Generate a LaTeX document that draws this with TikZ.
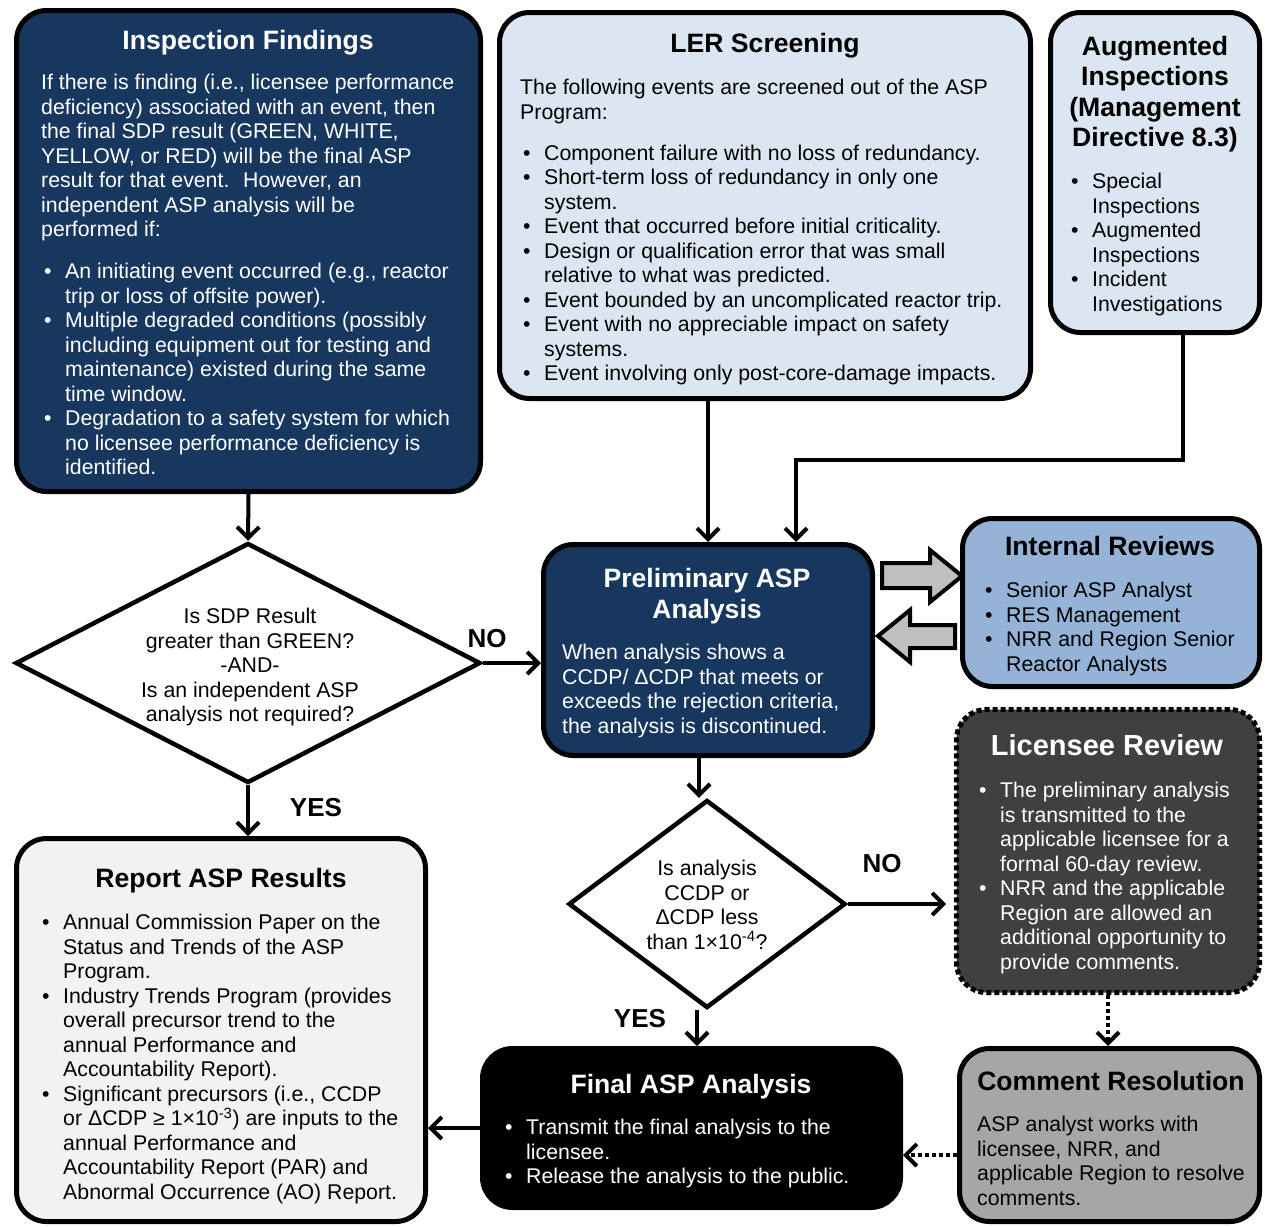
\documentclass[tikz,border=0pt]{standalone}
\usepackage{fontspec}
\setmainfont{Liberation Sans}
\usetikzlibrary{shapes.geometric,arrows.meta,calc}
\definecolor{navy}{HTML}{17375E}
\definecolor{lightblue}{HTML}{DCE6F2}
\definecolor{midblue}{HTML}{95B3D7}
\definecolor{darkgray}{HTML}{404040}
\definecolor{midgray}{HTML}{A6A6A6}
\definecolor{palegray}{HTML}{F2F2F2}
\definecolor{arrowgray}{HTML}{BFBFBF}
\newcommand{\bitem}{\makebox[24pt][l]{\hspace{3pt}•}}
\newcommand{\bind}{\hspace*{24pt}}
\tikzset{
  box/.style={draw=black, line width=5pt, rounded corners=30pt, rectangle},
  body/.style={font=\fontsize{21.3}{24.5}\selectfont, align=left, anchor=north west, inner sep=0pt},
  dtext/.style={font=\fontsize{21.3}{24.5}\selectfont, align=center, anchor=north, inner sep=0pt},
  ttl/.style={font=\bfseries\fontsize{26.6}{30.5}\selectfont, anchor=base, inner sep=0pt},
  mttl/.style={font=\bfseries\fontsize{26.6}{30.5}\selectfont, align=center, anchor=north, inner sep=0pt},
  lbl/.style={font=\bfseries\fontsize{26}{30}\selectfont, anchor=base, inner sep=0pt},
  dia/.style={diamond, draw=black, line width=4.5pt, fill=white, inner sep=0pt},
  conn/.style={line width=4pt, -{Straight Barb[length=11pt,width=22pt]}},
  dconn/.style={line width=4pt, dash pattern=on 4pt off 3pt, -{Straight Barb[length=11pt,width=22pt]}},
  blockarrow/.style={draw=black, line width=4pt, fill=arrowgray, line join=miter}
}
\begin{document}
\begin{tikzpicture}[x=1pt,y=-1pt]
\useasboundingbox (0,0) rectangle (1265,1226);
\fill[white] (0,0) rectangle (1265,1226);

% ---------- boxes ----------
\node[box, fill=navy, minimum width=464pt, minimum height=481pt] (insp) at (248.5,251) {};
\node[box, fill=lightblue, minimum width=531pt, minimum height=386pt] (ler) at (765,205.5) {};
\node[box, fill=lightblue, minimum width=209pt, minimum height=320pt] (aug) at (1155,172.5) {};
\node[box, fill=navy, minimum width=329pt, minimum height=211pt] (prelim) at (708,650) {};
\node[box, fill=midblue, minimum width=297pt, minimum height=168pt] (irev) at (1111,602.5) {};
\node[box, fill=darkgray, dash pattern=on 5pt off 3pt, minimum width=303pt, minimum height=283pt] (lic) at (1108,851) {};
\node[box, fill=palegray, minimum width=409pt, minimum height=383pt] (report) at (221,1030) {};
\node[box, fill=black, minimum width=418pt, minimum height=159pt] (final) at (691.5,1128) {};
\node[box, fill=midgray, minimum width=300pt, minimum height=173pt] (com) at (1109.5,1135) {};

% ---------- diamonds ----------
\node[dia, minimum width=465pt, minimum height=240pt] (d1) at (248,663) {};
\node[dia, minimum width=277pt, minimum height=208pt] (d2) at (707,904) {};

% ---------- titles ----------
\node[ttl, text=white] (t1) at (248,49.5) {Inspection Findings};
\node[ttl] (t2) at (765,52.5) {LER Screening};
\node[mttl] (t3) at (1155,36) {Augmented\\Inspections\\(Management\\Directive 8.3)};
\node[mttl, text=white, font=\bfseries\fontsize{26.6}{31}\selectfont] (t4) at (707,568) {Preliminary ASP\\Analysis};
\node[ttl] (t5) at (1110,555.5) {Internal Reviews};
\node[ttl, text=white, font=\bfseries\fontsize{29}{33}\selectfont] (t6) at (1107,755.5) {Licensee Review};
\node[ttl] (t7) at (221,887.5) {Report ASP Results};
\node[ttl, text=white] (t8) at (691,1093.5) {Final ASP Analysis};
\node[ttl] (t9) at (1111,1090.5) {Comment Resolution};

% ---------- bodies ----------
\node[body, text=white] (b1) at (41,74) {If there is finding (i.e., licensee performance\\
deficiency) associated with an event, then\\
the final SDP result (GREEN, WHITE,\\
YELLOW, or RED) will be the final ASP\\
result for that event.~ However, an\\
independent ASP analysis will be\\
performed if:\\[17.5pt]
\bitem An initiating event occurred (e.g., reactor\\
\bind trip or loss of offsite power).\\
\bitem Multiple degraded conditions (possibly\\
\bind including equipment out for testing and\\
\bind maintenance) existed during the same\\
\bind time window.\\
\bitem Degradation to a safety system for which\\
\bind no licensee performance deficiency is\\
\bind identified.};

\node[body] (b2) at (520,79) {The following events are screened out of the ASP\\
Program:\\[16.5pt]
\bitem Component failure with no loss of redundancy.\\
\bitem Short-term loss of redundancy in only one\\
\bind system.\\
\bitem Event that occurred before initial criticality.\\
\bitem Design or qualification error that was small\\
\bind relative to what was predicted.\\
\bitem Event bounded by an uncomplicated reactor trip.\\
\bitem Event with no appreciable impact on safety\\
\bind systems.\\
\bitem Event involving only post-core-damage impacts.};

\node[body] (b3) at (1068,173) {\bitem Special\\
\bind Inspections\\
\bitem Augmented\\
\bind Inspections\\
\bitem Incident\\
\bind Investigations};

\node[body, text=white] (b4) at (562,644) {When analysis shows a\\
CCDP/ ΔCDP that meets or\\
exceeds the rejection criteria,\\
the analysis is discontinued.};

\node[body] (b5) at (982,582) {\bitem Senior ASP Analyst\\
\bitem RES Management\\
\bitem NRR and Region Senior\\
\bind Reactor Analysts};

\node[body, text=white] (b6) at (976,782) {\bitem The preliminary analysis\\
\bind is transmitted to the\\
\bind applicable licensee for a\\
\bind formal 60-day review.\\
\bitem NRR and the applicable\\
\bind Region are allowed an\\
\bind additional opportunity to\\
\bind provide comments.};

\node[body] (b7) at (39,914) {\bitem Annual Commission Paper on the\\
\bind Status and Trends of the ASP\\
\bind Program.\\
\bitem Industry Trends Program (provides\\
\bind overall precursor trend to the\\
\bind annual Performance and\\
\bind Accountability Report).\\
\bitem Significant precursors (i.e., CCDP\\
\bind or ΔCDP ≥ 1×10\textsuperscript{-3}) are inputs to the\\
\bind annual Performance and\\
\bind Accountability Report (PAR) and\\
\bind Abnormal Occurrence (AO) Report.};

\node[body, text=white] (b8) at (502,1119) {\bitem Transmit the final analysis to the\\
\bind licensee.\\
\bitem Release the analysis to the public.};

\node[body] (b9) at (977,1116) {ASP analyst works with\\
licensee, NRR, and\\
applicable Region to resolve\\
comments.};

\node[dtext] (q1) at (250,608) {Is SDP Result\\greater than GREEN?\\-AND-\\Is an independent ASP\\analysis not required?};
\node[dtext] (q2) at (707,860) {Is analysis\\CCDP or\\ΔCDP less\\than 1×10\textsuperscript{-4}?};

% ---------- connectors ----------
\draw[conn] (insp.south) -- (d1.north);
\draw[conn] (d1.east) -- (d1.east -| prelim.west);
\draw[conn] (d1.south) -- (d1.south |- report.north);
\draw[conn] (ler.south -| prelim.north) -- (prelim.north);
\coordinate (augout) at ($(aug.south)+(28,0)$);
\coordinate (prelimin) at ($(prelim.north)+(88,0)$);
\draw[conn] (augout) -- ($(augout)+(0,125)$) -| (prelimin);
\coordinate (prelimout) at ($(prelim.south)+(-9,0)$);
\draw[conn] (prelimout) -- (prelimout |- d2.north);
\draw[conn] (d2.east) -- ($(d2.east -| lic.west)+(-8,0)$);
\coordinate (d2out) at ($(d2.south)+(-10,0)$);
\draw[conn] (d2out) -- (d2out |- final.north);
\draw[dconn] (lic.south) -- (lic.south |- com.north);
\coordinate (comout) at ($(com.west)+(0,20)$);
\draw[dconn] (comout) -- (comout -| final.east);
\draw[conn] (final.west) -- (final.west -| report.east);

% ---------- block arrows ----------
\draw[blockarrow] (882,563) -- (930,563) -- (930,550) -- (962,576) -- (930,602) -- (930,588) -- (882,588) -- cycle;
\draw[blockarrow] (955,625) -- (910,625) -- (910,610) -- (878,636) -- (910,662) -- (910,648) -- (955,648) -- cycle;

% ---------- labels ----------
\node[lbl] (no1) at (487,647.5) {NO};
\node[lbl] (yes1) at (316,816.5) {YES};
\node[lbl] (no2) at (882,872.5) {NO};
\node[lbl] (yes2) at (640,1027.5) {YES};
\end{tikzpicture}
\end{document}
